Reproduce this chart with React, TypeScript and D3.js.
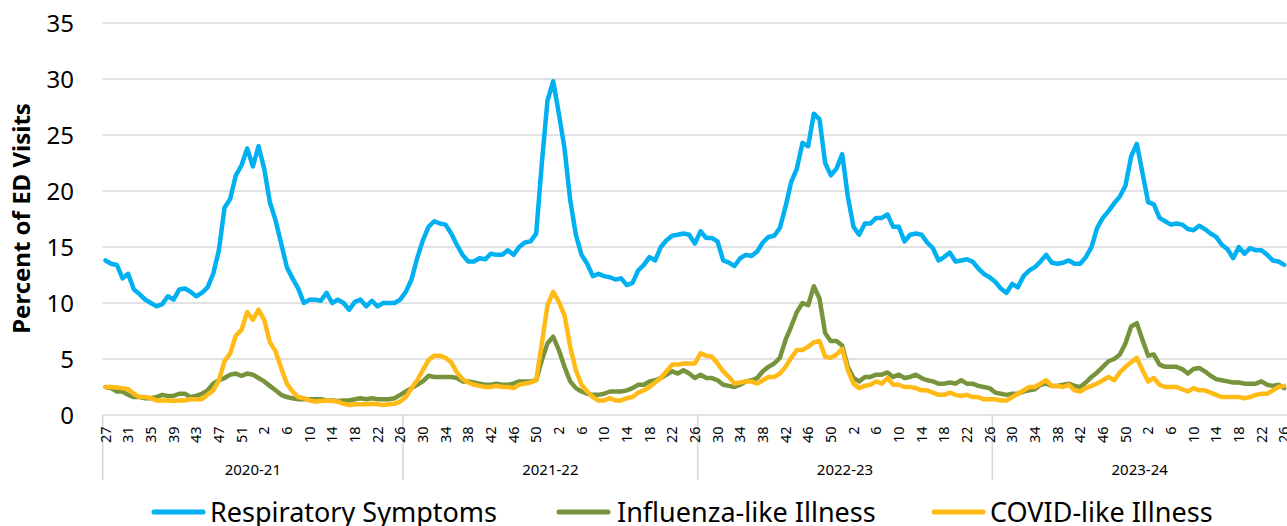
import React from "react";
import * as d3 from "d3";

// ---- Data ----
const SEASONS = ["2020-21", "2021-22", "2022-23", "2023-24"];
const SEASON_WEEKS = [53, 52, 52, 52];
const START_WEEK = 27;
const Y_TICKS = [0, 5, 10, 15, 20, 25, 30, 35];
const SERIES_NAMES = ["Respiratory Symptoms", "Influenza-like Illness", "COVID-like Illness"];

const RESPIRATORY = [
  13.8, 13.5, 13.4, 12.2, 12.6, 11.2, 10.8, 10.3, 10.0, 9.7, 9.9, 10.6, 10.3, 11.2, 11.3, 11.0, 10.6, 10.9, 11.4, 12.6,
  14.7, 18.5, 19.3, 21.4, 22.3, 23.8, 22.2, 24.0, 22.0, 19.0, 17.4, 15.3, 13.2, 12.2, 11.3, 10.0, 10.3, 10.3, 10.2, 10.9,
  10.0, 10.3, 10.0, 9.4, 10.1, 10.3, 9.7, 10.2, 9.7, 10.0, 10.0, 10.0, 10.3,
  11.0, 12.1, 14.0, 15.6, 16.8, 17.3, 17.1, 17.0, 16.2, 15.2, 14.3, 13.7, 13.7, 14.0, 13.9, 14.4, 14.3, 14.3, 14.7, 14.3,
  15.0, 15.4, 15.5, 16.2, 22.5, 28.1, 29.8, 26.9, 23.8, 19.2, 16.1, 14.3, 13.5, 12.4, 12.6, 12.4, 12.3, 12.1, 12.2, 11.6,
  11.8, 12.9, 13.4, 14.1, 13.8, 15.0, 15.6, 16.0, 16.1, 16.2, 16.1, 15.3,
  16.4, 15.8, 15.8, 15.5, 13.8, 13.6, 13.3, 14.0, 14.3, 14.2, 14.6, 15.4, 15.9, 16.0, 16.7, 18.6, 20.8, 22.0, 24.3, 24.0,
  26.9, 26.4, 22.5, 21.4, 22.0, 23.3, 19.5, 16.8, 16.1, 17.1, 17.1, 17.6, 17.6, 17.9, 16.8, 16.8, 15.5, 16.1, 16.2, 16.1,
  15.4, 14.9, 13.8, 14.1, 14.5, 13.7, 13.8, 13.9, 13.7, 13.1, 12.6, 12.3,
  11.9, 11.3, 10.9, 11.7, 11.4, 12.4, 12.9, 13.2, 13.7, 14.3, 13.6, 13.5, 13.6, 13.8, 13.5, 13.5, 14.1, 15.0, 16.7, 17.6,
  18.2, 18.9, 19.5, 20.5, 23.1, 24.2, 21.6, 19.0, 18.8, 17.6, 17.3, 17.0, 17.1, 17.0, 16.6, 16.5, 16.9, 16.6, 16.2, 15.9,
  15.2, 14.8, 14.0, 15.0, 14.4, 14.9, 14.7, 14.7, 14.3, 13.8, 13.7, 13.4,
];

const INFLUENZA = [
  2.5, 2.4, 2.1, 2.1, 1.8, 1.6, 1.6, 1.5, 1.5, 1.6, 1.8, 1.7, 1.7, 1.9, 1.9, 1.6, 1.7, 1.9, 2.2, 2.8,
  3.1, 3.3, 3.6, 3.7, 3.5, 3.7, 3.6, 3.3, 3.0, 2.6, 2.2, 1.8, 1.6, 1.5, 1.4, 1.4, 1.4, 1.4, 1.4, 1.3,
  1.3, 1.25, 1.3, 1.3, 1.4, 1.5, 1.4, 1.5, 1.4, 1.4, 1.4, 1.5, 1.8,
  2.1, 2.4, 2.7, 3.0, 3.5, 3.4, 3.4, 3.4, 3.4, 3.3, 3.0, 3.0, 2.9, 2.8, 2.7, 2.7, 2.8, 2.7, 2.7, 2.8,
  3.0, 3.0, 3.0, 3.1, 4.9, 6.4, 7.0, 5.8, 4.3, 3.0, 2.4, 2.1, 1.9, 1.8, 1.8, 1.9, 2.1, 2.1, 2.1, 2.2,
  2.4, 2.7, 2.7, 3.0, 3.1, 3.3, 3.6, 3.9, 3.7, 4.0, 3.7, 3.3,
  3.6, 3.3, 3.3, 3.1, 2.7, 2.6, 2.5, 2.7, 3.0, 3.1, 3.3, 3.9, 4.3, 4.6, 5.1, 6.7, 7.9, 9.2, 10.0, 9.8,
  11.5, 10.4, 7.3, 6.6, 6.6, 6.2, 4.3, 3.3, 3.0, 3.4, 3.4, 3.6, 3.6, 3.8, 3.4, 3.6, 3.3, 3.4, 3.6, 3.3,
  3.1, 3.0, 2.8, 2.8, 2.9, 2.8, 3.1, 2.8, 2.8, 2.6, 2.5, 2.4,
  2.0, 1.9, 1.8, 1.9, 1.9, 2.1, 2.2, 2.3, 2.7, 2.8, 2.6, 2.6, 2.7, 2.8, 2.6, 2.5, 2.9, 3.4, 3.8, 4.3,
  4.8, 5.0, 5.4, 6.4, 7.9, 8.2, 6.7, 5.3, 5.4, 4.5, 4.3, 4.3, 4.3, 4.1, 3.7, 4.1, 4.2, 3.9, 3.5, 3.2,
  3.1, 3.0, 2.9, 2.9, 2.8, 2.8, 2.8, 3.0, 2.7, 2.6, 2.7, 2.4,
];

const COVID = [
  2.5, 2.5, 2.45, 2.4, 2.3, 1.9, 1.6, 1.6, 1.5, 1.3, 1.3, 1.3, 1.25, 1.3, 1.3, 1.4, 1.4, 1.4, 1.8, 2.2,
  3.1, 4.8, 5.5, 7.1, 7.6, 9.2, 8.5, 9.4, 8.5, 6.5, 5.7, 4.2, 2.8, 2.1, 1.6, 1.5, 1.3, 1.2, 1.25, 1.3,
  1.25, 1.2, 1.0, 0.9, 0.95, 0.95, 0.95, 1.0, 0.95, 0.9, 0.95, 1.0, 1.2,
  1.6, 2.4, 3.1, 4.0, 4.9, 5.3, 5.3, 5.1, 4.7, 3.8, 3.2, 2.9, 2.7, 2.6, 2.5, 2.5, 2.6, 2.5, 2.5, 2.4,
  2.7, 2.8, 2.9, 3.1, 6.4, 9.8, 11.0, 10.1, 8.9, 6.1, 4.0, 2.7, 2.1, 1.6, 1.3, 1.3, 1.5, 1.3, 1.3, 1.5,
  1.6, 2.0, 2.2, 2.5, 2.9, 3.3, 3.9, 4.5, 4.5, 4.6, 4.6, 4.6,
  5.5, 5.3, 5.2, 4.6, 3.9, 3.4, 2.8, 2.9, 3.0, 3.0, 2.8, 3.1, 3.4, 3.4, 3.7, 4.3, 5.1, 5.8, 5.8, 6.1,
  6.5, 6.6, 5.2, 5.1, 5.4, 5.9, 4.0, 2.8, 2.4, 2.6, 2.7, 3.0, 2.8, 3.3, 2.7, 2.7, 2.5, 2.5, 2.4, 2.2,
  2.2, 2.0, 1.8, 1.8, 2.0, 1.8, 1.7, 1.8, 1.6, 1.6, 1.4, 1.4,
  1.4, 1.3, 1.3, 1.6, 1.9, 2.2, 2.5, 2.5, 2.8, 3.1, 2.6, 2.6, 2.5, 2.7, 2.2, 2.1, 2.4, 2.6, 2.8, 3.1,
  3.4, 3.1, 3.8, 4.3, 4.7, 5.1, 4.0, 3.0, 3.3, 2.7, 2.5, 2.5, 2.5, 2.3, 2.1, 2.4, 2.2, 2.2, 2.0, 1.8,
  1.6, 1.6, 1.6, 1.6, 1.5, 1.6, 1.8, 1.9, 1.9, 2.2, 2.5, 2.6,
];

// ---- Styles ----
const COLORS = ["#00B0F0", "#77933C", "#FFBA16"];
const FONT = "'Noto Sans', 'Liberation Sans', sans-serif";
const GRID = "#d9d9d9";

// build category week numbers
const WEEKS: number[] = [];
SEASON_WEEKS.forEach((n) => {
  const firstHalf = n - 26; // weeks START_WEEK..end of year
  for (let k = 0; k < firstHalf; k++) WEEKS.push(START_WEEK + k);
  for (let k = 1; k <= 26; k++) WEEKS.push(k);
});

export default function App() {
  const W = 1287;
  const H = 526;
  const plotLeft = 102.7;
  const plotRight = 1287;
  const plotTop = 23;
  const plotBottom = 415;
  const N = WEEKS.length;

  const x = d3.scalePoint<number>().domain(d3.range(N)).range([plotLeft, plotRight]).padding(0.5);
  const step = x.step();
  const y = d3.scaleLinear().domain([0, 35]).range([plotBottom, plotTop]);

  const lineGen = d3
    .line<number>()
    .x((_, i) => x(i) as number)
    .y((d) => y(d));

  const seriesData = [RESPIRATORY, INFLUENZA, COVID];

  // boundaries between seasons
  const bounds: number[] = [plotLeft];
  let acc = 0;
  SEASON_WEEKS.forEach((n) => {
    acc += n;
    bounds.push((x(acc - 1) as number) + step / 2);
  });

  const legendItems = [
    { lx: 152, tx: 210 },
    { lx: 557, tx: 617 },
    { lx: 932, tx: 990 },
  ];

  return (
    <svg
      width={W}
      height={H}
      style={{ position: "absolute", left: 0, top: 0, background: "#fff" }}
      fontFamily={FONT}
    >
      {/* gridlines */}
      {Y_TICKS.map((t) => (
        <line key={t} x1={plotLeft} x2={plotRight} y1={y(t)} y2={y(t)} stroke={GRID} strokeWidth={1.6} />
      ))}
      {/* y tick labels */}
      {Y_TICKS.map((t) => (
        <text key={"yl" + t} x={74} y={y(t)} dy="0.36em" textAnchor="end" fontSize={24} fill="#000">
          {t}
        </text>
      ))}
      {/* y title */}
      <text
        transform={`translate(30, ${(102 + 335) / 2}) rotate(-90)`}
        textAnchor="middle"
        fontSize={24}
        fontWeight="bold"
        fill="#000"
      >
        Percent of ED Visits
      </text>
      {/* season separators */}
      {bounds.slice(0, 4).map((b, i) => (
        <line key={"b" + i} x1={b} x2={b} y1={plotBottom} y2={480} stroke={GRID} strokeWidth={1.6} />
      ))}
      {/* x tick labels */}
      {WEEKS.map((w, i) =>
        i % 4 === 0 ? (
          <text
            key={"xt" + i}
            transform={`translate(${x(i)}, 426.5) rotate(-90)`}
            textAnchor="end"
            dy="0.36em"
            fontSize={14.5}
            fill="#000"
          >
            {w}
          </text>
        ) : null
      )}
      {/* season labels */}
      {SEASONS.map((s, i) => (
        <text
          key={s}
          x={(bounds[i] + bounds[i + 1]) / 2}
          y={474.5}
          textAnchor="middle"
          fontSize={15}
          fill="#000"
        >
          {s}
        </text>
      ))}
      {/* series lines */}
      {seriesData.map((d, si) => (
        <path
          key={"s" + si}
          d={lineGen(d) || ""}
          fill="none"
          stroke={COLORS[si]}
          strokeWidth={4.5}
          strokeLinejoin="round"
          strokeLinecap="round"
        />
      ))}
      {/* legend */}
      {SERIES_NAMES.map((name, i) => (
        <g key={name}>
          <line
            x1={legendItems[i].lx + 2}
            x2={legendItems[i].lx + 51}
            y1={512}
            y2={512}
            stroke={COLORS[i]}
            strokeWidth={5}
            strokeLinecap="round"
          />
          <text x={legendItems[i].tx} y={521.5} fontSize={27} fill="#000">
            {name}
          </text>
        </g>
      ))}
    </svg>
  );
}
